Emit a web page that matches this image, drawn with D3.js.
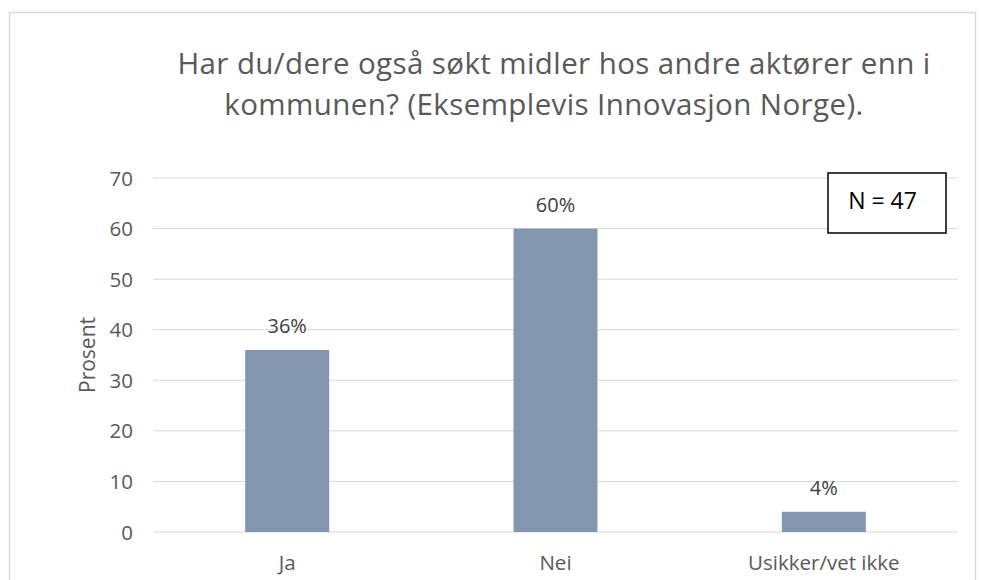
<!DOCTYPE html>
<html><head><meta charset="utf-8">
<script src="https://cdn.jsdelivr.net/npm/d3@7"></script>
<style>body{margin:0;background:#fff}svg{display:block}</style>
</head><body>
<svg id="c" width="982" height="580"></svg>
<script>
const categories = ["Ja", "Nei", "Usikker/vet ikke"];
const values = [36, 60, 4];
const valueLabels = ["36%", "60%", "4%"];
const yTicks = [0, 10, 20, 30, 40, 50, 60, 70];
const titleLines = ["Har du/dere også søkt midler hos andre aktører enn i", "kommunen? (Eksemplevis Innovasjon Norge)."];
const yTitle = "Prosent";
const noteText = "N = 47";

const svg = d3.select("#c");
const font = "'Open Sans', sans-serif";
const grey = "#595959";

svg.append("rect").attr("x", 9.5).attr("y", 12.5).attr("width", 966).attr("height", 600)
  .attr("fill", "#fff").attr("stroke", "#d9d9d9").attr("stroke-width", 1.5);

const m = {left: 153, right: 958, top: 178, bottom: 532};
const x = d3.scaleBand().domain(categories).range([m.left, m.right]).padding(0);
const y = d3.scaleLinear().domain([0, 70]).range([m.bottom, m.top]);

const g = svg.append("g");
g.selectAll("line.grid").data(yTicks).join("line")
  .attr("x1", m.left).attr("x2", m.right)
  .attr("y1", d => y(d)).attr("y2", d => y(d))
  .attr("stroke", "#d9d9d9").attr("stroke-width", 1);

g.selectAll("text.yt").data(yTicks).join("text")
  .attr("x", 133).attr("y", d => y(d) + 7.5)
  .attr("text-anchor", "end").attr("font-family", font).attr("font-size", 20.5)
  .attr("fill", grey).text(d => d);

const bw = x.bandwidth() * 0.313;
g.selectAll("rect.bar").data(values).join("rect")
  .attr("x", (d, i) => x(categories[i]) + x.bandwidth() / 2 - bw / 2)
  .attr("y", d => y(d)).attr("width", bw).attr("height", d => y(0) - y(d))
  .attr("fill", "#8497b0");

g.selectAll("text.vl").data(values).join("text")
  .attr("x", (d, i) => x(categories[i]) + x.bandwidth() / 2)
  .attr("y", d => y(d) - 16.5)
  .attr("text-anchor", "middle").attr("font-family", font).attr("font-size", 20)
  .attr("fill", "#404040").text((d, i) => valueLabels[i]);

g.selectAll("text.xl").data(categories).join("text")
  .attr("x", d => x(d) + x.bandwidth() / 2).attr("y", 570)
  .attr("text-anchor", "middle").attr("font-family", font).attr("font-size", 20.5)
  .attr("fill", grey).text(d => d);

svg.append("text").attr("transform", `translate(95,${(m.top + m.bottom) / 2}) rotate(-90)`)
  .attr("text-anchor", "middle").attr("font-family", font)
  .attr("font-size", 21).attr("fill", grey).text(yTitle);

const title = svg.append("text")
  .attr("text-anchor", "middle").attr("font-family", font).attr("font-size", 29.5)
  .attr("letter-spacing", 0.4).attr("fill", grey);
title.selectAll("tspan").data(titleLines).join("tspan")
  .attr("x", (d, i) => i === 0 ? 554 : 544).attr("y", (d, i) => 73.5 + i * 41)
  .text(d => d);

svg.append("rect").attr("x", 828).attr("y", 173).attr("width", 118).attr("height", 60)
  .attr("fill", "#fff").attr("stroke", "#000").attr("stroke-width", 1.5);
svg.append("text").attr("x", 882.5).attr("y", 208.5)
  .attr("text-anchor", "middle").attr("font-family", font).attr("font-size", 23)
  .attr("fill", "#000").text(noteText);
</script>
</body></html>
